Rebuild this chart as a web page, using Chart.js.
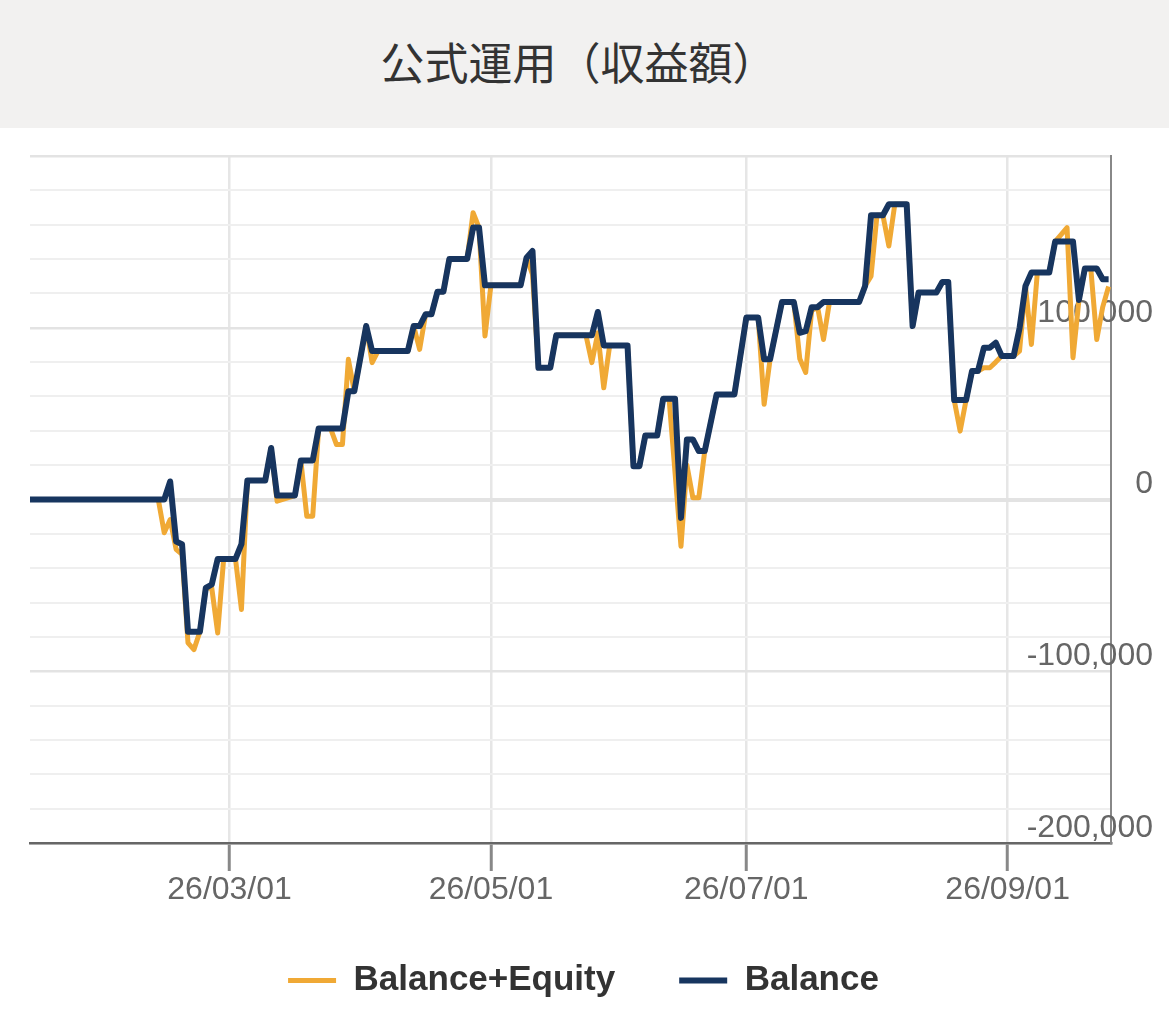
<!DOCTYPE html>
<html>
<head>
<meta charset="utf-8">
<script src="https://cdn.jsdelivr.net/npm/chart.js@4.4.1/dist/chart.umd.min.js"></script>
<style>
  html, body { margin: 0; padding: 0; background: #ffffff; }
  #title {
    position: absolute; left: 0; top: 0; width: 1169px; height: 128px;
    background: #f2f1f0; color: #333333;
    font-family: "Noto Sans CJK JP", "Noto Sans CJK SC", sans-serif;
    font-size: 44px; line-height: 122px; text-align: center;
    box-sizing: border-box; padding-right: 12px;
  }
  #wrap { position: absolute; left: 0; top: 128px; width: 1169px; height: 903px; }
</style>
</head>
<body>
<div id="title">公式運用（収益額）</div>
<div id="wrap"><canvas id="c" width="1169" height="903"></canvas></div>
<script>
// ---- data (x = trading-day number counted from 2026-01-01, y = profit in yen) ----
const tickDay   = [42, 86, 129, 173];
const tickLabel = ['26/03/01', '26/05/01', '26/07/01', '26/09/01'];
const yMin = -200000, yMax = 200000, yStep = 20000, yLabelStep = 100000;
const seriesNames = ['Balance+Equity', 'Balance'];

const balanceDay = [8,31,32,33,34,35,37,38,39,40,43,44,45,48,49,50,53,54,56,57,61,62,63,65,66,72,73,74,75,76,77,78,79,82,83,84,85,91,92,93,94,96,97,103,104,105,109,110,111,112,114,115,117,118,119,120,121,122,124,127,129,131,132,133,135,137,138,139,140,141,142,148,149,150,152,153,156,157,158,161,162,163,164,166,167,168,169,170,171,172,174,175,176,177,180,181,184,185,186,188,189,190];
const balanceValue = [0,0,10500,-24500,-26000,-77000,-77000,-51500,-49500,-34600,-34600,-26000,11000,11000,30000,2300,2300,22700,22700,41400,41400,63000,63000,101000,86400,86400,101000,101000,107800,107800,121000,121000,140000,140000,158300,158300,124700,124700,140800,144700,76700,76700,95600,95600,109200,89700,89700,19400,19400,37300,37300,58700,58700,-10700,35000,35000,28200,28200,61200,61200,105900,105900,81600,81600,115000,115000,97100,98000,112000,112000,115000,115000,124300,165500,165500,171900,171900,101000,120500,120500,126600,126600,57900,57900,74800,74800,88400,88400,91300,83500,83500,99700,124300,132100,132100,150200,150200,116200,134500,134500,128200,128200];

const equityDay = [8,30,31,32,33,34,35,36,37,38,39,40,41,43,44,45,48,49,50,53,54,55,56,57,59,60,61,62,63,65,66,67,72,73,74,75,76,77,78,79,82,83,84,85,86,91,92,93,94,96,97,102,103,104,105,106,109,110,111,112,114,115,116,118,119,120,121,122,124,127,129,131,132,133,135,137,138,139,140,141,142,143,148,149,150,151,152,153,154,156,157,158,161,162,163,164,165,166,167,168,169,170,171,172,174,175,176,177,178,180,181,183,184,185,186,187,188,189,190];
const equityValue = [0,0,-19400,-11700,-29000,-32000,-83500,-87400,-77000,-51500,-51500,-77700,-34600,-34600,-64000,11000,11000,30000,-1000,2300,22700,-9700,-9700,41400,41400,32000,32000,81600,63000,101000,79700,86400,86400,101000,87400,107800,107800,121000,121000,140000,140000,167000,158300,95200,124700,124700,140800,131000,76700,76700,95600,95600,79700,97000,65000,89700,89700,19400,19400,37300,37300,58700,58700,-27200,20000,1000,1000,28200,61200,61200,105900,105900,55400,81600,115000,115000,82000,74000,110000,112000,93200,115000,115000,124300,130000,165500,165500,147600,171900,171900,101000,120500,120500,126600,126600,57900,39800,57900,74800,74800,76700,76700,80000,83500,83500,86400,124300,90300,132100,132100,150200,158300,82600,116200,134500,134500,93200,112000,124000];

const ORANGE = '#f0a935';
const NAVY = '#17355f';
const FONT = 'Liberation Sans, Arial, Helvetica, sans-serif';

const toXY = (days, vals) => days.map((d, i) => ({ x: d, y: vals[i] }));
const yTickValues = [];
for (let v = yMin; v <= yMax; v += yStep) yTickValues.push(v);

new Chart(document.getElementById('c'), {
  type: 'line',
  data: {
    datasets: [
      { label: seriesNames[0], data: toXY(equityDay, equityValue), borderColor: ORANGE, backgroundColor: ORANGE,
        borderWidth: 5, pointRadius: 0, tension: 0, borderJoinStyle: 'round', borderCapStyle: 'butt', order: 2 },
      { label: seriesNames[1], data: toXY(balanceDay, balanceValue), borderColor: NAVY, backgroundColor: NAVY,
        borderWidth: 6, pointRadius: 0, tension: 0, borderJoinStyle: 'round', borderCapStyle: 'butt', order: 1 }
    ]
  },
  options: {
    responsive: false,
    animation: false,
    events: [],
    layout: { padding: { left: 30, right: 32, top: 28, bottom: 23 } },
    plugins: {
      tooltip: { enabled: false },
      legend: {
        position: 'bottom',
        labels: {
          sort: (a, b) => a.datasetIndex - b.datasetIndex,
          usePointStyle: true, pointStyle: 'line', pointStyleWidth: 48,
          padding: 64, color: '#333333',
          font: { family: FONT, size: 35, weight: 'bold' }
        }
      }
    },
    scales: {
      x: {
        type: 'linear', position: 'bottom', min: 8.4, max: 190.4,
        afterBuildTicks: s => { s.ticks = tickDay.map(v => ({ value: v })); },
        afterFit: s => { s.height = 56; },
        ticks: {
          autoSkip: false, maxRotation: 0, mirror: true, padding: -66, color: '#666666',
          font: { family: FONT, size: 32 },
          callback: v => { const i = tickDay.indexOf(v); return i >= 0 ? tickLabel[i] : ''; }
        },
        grid: { color: '#e6e6e6', lineWidth: 2.5, drawTicks: true, tickLength: 28, tickColor: '#888888', tickWidth: 3 },
        border: { color: '#666666', width: 2.5 }
      },
      y: {
        type: 'linear', position: 'right', min: yMin, max: yMax,
        afterBuildTicks: s => { s.ticks = yTickValues.map(v => ({ value: v })); },
        afterFit: s => { s.width = 26; s.paddingTop = 0; s.paddingBottom = 0; },
        ticks: {
          mirror: true, crossAlign: 'near', padding: 42, labelOffset: -15, color: '#666666',
          autoSkip: false,
          font: { family: FONT, size: 32 },
          callback: v => (v % yLabelStep === 0 && v !== yMax) ? v.toLocaleString('en-US') : ''
        },
        grid: {
          drawTicks: false,
          color: c => (c.tick && c.tick.value % yLabelStep === 0) ? '#e3e3e3' : '#efefef',
          lineWidth: c => (c.tick && c.tick.value === 0) ? 4 : ((c.tick && c.tick.value % yLabelStep === 0) ? 2.5 : 2)
        },
        border: { color: '#888888', width: 2 }
      }
    }
  }
});
</script>
</body>
</html>
